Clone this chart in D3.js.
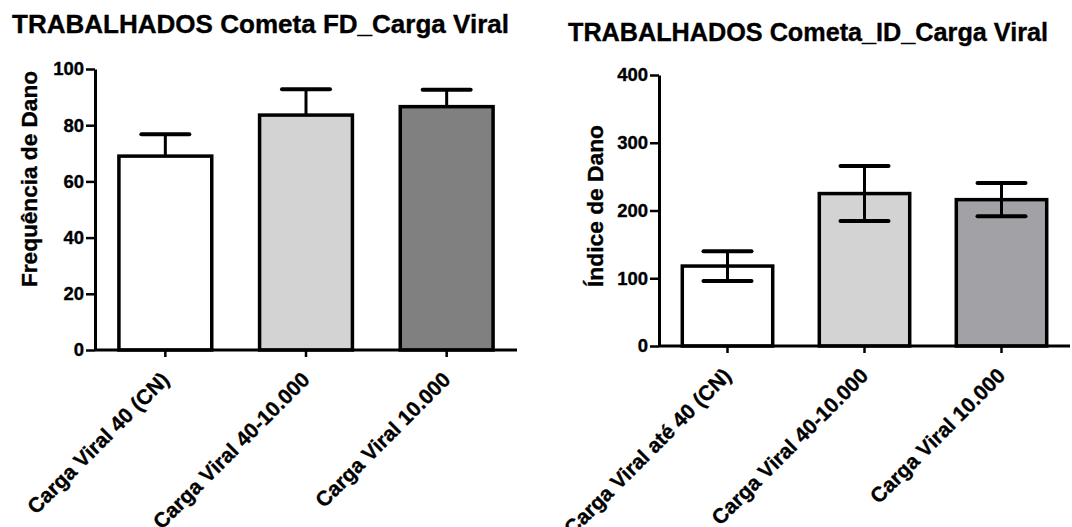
<!DOCTYPE html>
<html>
<head>
<meta charset="utf-8">
<script src="https://cdn.jsdelivr.net/npm/d3@7/dist/d3.min.js"></script>
<style>
  html, body { margin: 0; padding: 0; background: #ffffff; }
  svg { display: block; font-family: "Liberation Sans", Arial, sans-serif; font-weight: bold; }
  svg text { stroke: #000; stroke-width: 0.35px; }
</style>
</head>
<body>
<svg id="chart" width="1072" height="527"></svg>
<script>
// ---- data ----
const leftTitle = "TRABALHADOS Cometa FD_Carga Viral";
const leftYLabel = "Frequência de Dano";
const leftCategories = ["Carga Viral 40 (CN)", "Carga Viral 40-10.000", "Carga Viral 10.000"];
const leftMeans = [69.0, 83.6, 86.6];
const leftErrors = [7.8, 9.2, 6.0];
const leftTicks = [0, 20, 40, 60, 80, 100];

const rightTitle = "TRABALHADOS Cometa_ID_Carga Viral";
const rightYLabel = "Índice de Dano";
const rightCategories = ["Carga Viral até 40 (CN)", "Carga Viral 40-10.000", "Carga Viral 10.000"];
const rightMeans = [118, 225, 216];
const rightErrors = [22, 40.5, 24.5];
const rightTicks = [0, 100, 200, 300, 400];

const leftColors = ["#ffffff", "#d3d3d3", "#808080"];
const rightColors = ["#ffffff", "#d3d3d3", "#a2a2a6"];

const svg = d3.select("#chart");

function panel(opt) {
  const g = svg.append("g");
  const y = d3.scaleLinear().domain(opt.domain).range([opt.yBottom, opt.yTop]);
  const x = d3.scaleBand().domain(opt.categories).range([opt.xLeft, opt.xRight])
    .paddingInner(0.34).paddingOuter(0.17);

  // title
  g.append("text").attr("x", opt.titleX).attr("y", opt.titleY)
    .attr("font-size", 25).attr("fill", "#000")
    .attr("textLength", opt.titleLen).attr("lengthAdjust", "spacingAndGlyphs")
    .text(opt.title);

  // y label
  g.append("text")
    .attr("transform", `translate(${opt.yLabelX},${opt.yLabelY}) rotate(-90)`)
    .attr("text-anchor", "middle").attr("font-size", 22).attr("fill", "#000")
    .attr("textLength", opt.yLabelLen).attr("lengthAdjust", "spacingAndGlyphs")
    .text(opt.yLabel);

  // bars
  const data = opt.categories.map((c, i) => ({c, v: opt.means[i], e: opt.errors[i], col: opt.colors[i]}));
  g.selectAll("rect.bar").data(data).join("rect").attr("class", "bar")
    .attr("x", d => x(d.c)).attr("width", x.bandwidth())
    .attr("y", d => y(d.v)).attr("height", d => y(0) - y(d.v))
    .attr("fill", d => d.col).attr("stroke", "#000").attr("stroke-width", 3.5);

  // error bars
  const capW = 48;
  const eb = g.selectAll("g.err").data(data).join("g").attr("class", "err");
  eb.append("line")
    .attr("x1", d => x(d.c) + x.bandwidth() / 2).attr("x2", d => x(d.c) + x.bandwidth() / 2)
    .attr("y1", d => opt.bothSides ? y(d.v - d.e) : y(d.v)).attr("y2", d => y(d.v + d.e))
    .attr("stroke", "#000").attr("stroke-width", 3);
  eb.append("line")
    .attr("x1", d => x(d.c) + x.bandwidth() / 2 - capW / 2).attr("x2", d => x(d.c) + x.bandwidth() / 2 + capW / 2)
    .attr("y1", d => y(d.v + d.e)).attr("y2", d => y(d.v + d.e))
    .attr("stroke", "#000").attr("stroke-width", 4).attr("stroke-linecap", "round");
  if (opt.bothSides) {
    eb.append("line")
      .attr("x1", d => x(d.c) + x.bandwidth() / 2 - capW / 2).attr("x2", d => x(d.c) + x.bandwidth() / 2 + capW / 2)
      .attr("y1", d => y(d.v - d.e)).attr("y2", d => y(d.v - d.e))
      .attr("stroke", "#000").attr("stroke-width", 4).attr("stroke-linecap", "round");
  }

  // y axis
  const ya = g.append("g").attr("transform", `translate(${opt.xLeft},0)`)
    .call(d3.axisLeft(y).tickValues(opt.ticks).tickSizeInner(9).tickSizeOuter(0).tickPadding(2).tickFormat(d3.format("d")));
  ya.select(".domain").attr("stroke", "#000").attr("stroke-width", 3);
  ya.selectAll(".tick line").attr("stroke", "#000").attr("stroke-width", 2.5);
  ya.selectAll(".tick text").attr("font-size", opt.tickFont).attr("font-family", "Liberation Sans, Arial, sans-serif")
    .attr("font-weight", "bold").attr("fill", "#000");

  // x axis
  const xa = g.append("g").attr("transform", `translate(0,${opt.yBottom})`)
    .call(d3.axisBottom(x).tickSizeInner(7).tickSizeOuter(0));
  xa.select(".domain").attr("stroke", "#000").attr("stroke-width", 3)
    .attr("d", `M${opt.xLeft},0H${opt.xRight}`);
  xa.selectAll(".tick line").attr("stroke", "#000").attr("stroke-width", 2.5);
  xa.selectAll(".tick text")
    .attr("x", 0).attr("y", 0).attr("dy", 0)
    .attr("transform", "translate(5,31) rotate(-45)")
    .attr("text-anchor", "end")
    .attr("font-size", 21).attr("font-family", "Liberation Sans, Arial, sans-serif")
    .attr("font-weight", "bold").attr("fill", "#000");
}

panel({
  title: leftTitle, titleX: 12, titleY: 33, titleLen: 497,
  yLabel: leftYLabel, yLabelX: 37, yLabelY: 179, yLabelLen: 216,
  categories: leftCategories, means: leftMeans, errors: leftErrors, colors: leftColors,
  ticks: leftTicks, domain: [0, 100],
  xLeft: 95, xRight: 517, yBottom: 350, yTop: 69, tickFont: 18.5, bothSides: false
});

panel({
  title: rightTitle, titleX: 568, titleY: 41, titleLen: 480,
  yLabel: rightYLabel, yLabelX: 603, yLabelY: 206, yLabelLen: 162,
  categories: rightCategories, means: rightMeans, errors: rightErrors, colors: rightColors,
  ticks: rightTicks, domain: [0, 400],
  xLeft: 659, xRight: 1070, yBottom: 346, yTop: 75, tickFont: 18.5, bothSides: true
});
</script>
</body>
</html>
